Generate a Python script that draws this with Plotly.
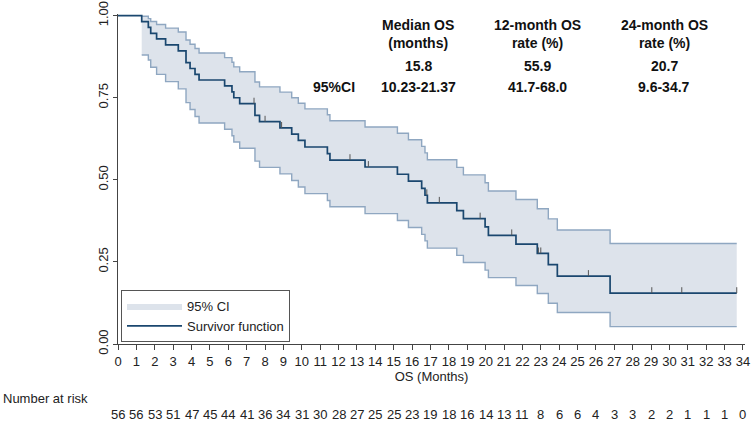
import plotly.graph_objects as go

# Kaplan-Meier steps (months, survival, 95% CI)
step_time = [0, 1.29, 1.65, 1.78, 2.10, 2.59, 3.28, 3.70, 3.92, 4.19,
             4.41, 5.80, 6.20, 6.30, 6.62, 7.45, 7.70, 8.81, 9.45, 9.81,
             10.17, 11.39, 11.53, 13.44, 15.20, 15.80, 16.52, 16.70, 16.83, 18.43,
             18.79, 19.97, 20.15, 21.65, 22.81, 23.41, 23.90, 26.77]
surv = [1.0, 0.982, 0.964, 0.946, 0.929, 0.911, 0.893, 0.857, 0.839, 0.821,
        0.804, 0.786, 0.768, 0.750, 0.732, 0.696, 0.677, 0.658, 0.639, 0.620,
        0.600, 0.580, 0.560, 0.539, 0.517, 0.496, 0.474, 0.453, 0.430, 0.406,
        0.382, 0.357, 0.331, 0.304, 0.276, 0.242, 0.207, 0.155]
ci_low = [1.0, 0.880, 0.865, 0.843, 0.821, 0.799, 0.777, 0.735, 0.714, 0.693,
          0.673, 0.654, 0.634, 0.615, 0.596, 0.557, 0.538, 0.518, 0.498, 0.478,
          0.458, 0.437, 0.418, 0.397, 0.376, 0.355, 0.334, 0.314, 0.292, 0.270,
          0.248, 0.225, 0.202, 0.178, 0.154, 0.124, 0.096, 0.053]
ci_high = [1.0, 0.998, 0.991, 0.982, 0.973, 0.962, 0.950, 0.926, 0.913, 0.900,
           0.886, 0.872, 0.858, 0.844, 0.829, 0.798, 0.783, 0.767, 0.750, 0.733,
           0.716, 0.698, 0.680, 0.661, 0.642, 0.622, 0.602, 0.582, 0.561, 0.538,
           0.515, 0.491, 0.466, 0.440, 0.412, 0.381, 0.347, 0.306]
last_followup = 33.66

censor_time = [7.4, 8.0, 8.9, 12.62, 13.62, 16.8, 17.48, 19.70, 21.42,
               22.87, 23.0, 25.59, 29.04, 30.67, 33.66]

risk_month = list(range(35))
at_risk = [56, 56, 53, 51, 47, 45, 44, 41, 36, 34, 31, 30, 28, 27, 25, 25, 23, 19,
           18, 16, 14, 13, 11, 8, 6, 6, 4, 3, 3, 2, 2, 1, 1, 1, 0]

col_titles = ["Median OS<br>(months)", "12-month OS<br>rate (%)", "24-month OS<br>rate (%)"]
col_estimates = ["15.8", "55.9", "20.7"]
col_ci = ["10.23-21.37", "41.7-68.0", "9.6-34.7"]

NAVY = "#1a476f"
BAND = "rgb(221,227,235)"
EDGE = "#8fa7c1"
FONT = "Arial, Liberation Sans, sans-serif"

W, H = 753, 421
L, R, T, B = 118, 8, 14, 77
pw, ph = W - L - R, H - T - B


def px_x(px):
    return (px - L) / pw


def px_y(py):
    return (H - B - py) / ph


x_end = step_time + [last_followup]
fig = go.Figure()

# 95% CI band (from first event on)
fig.add_trace(go.Scatter(x=x_end[1:], y=ci_low[1:] + [ci_low[-1]], mode="lines",
                         line=dict(width=0, shape="hv"), showlegend=False, hoverinfo="skip"))
fig.add_trace(go.Scatter(x=x_end[1:], y=ci_high[1:] + [ci_high[-1]], mode="lines",
                         line=dict(width=0, shape="hv"), fill="tonexty", fillcolor=BAND,
                         name="95% CI"))
for band in (ci_low, ci_high):
    fig.add_trace(go.Scatter(x=x_end[1:], y=band[1:] + [band[-1]], mode="lines",
                             line=dict(color=EDGE, width=1.4, shape="hv"),
                             showlegend=False, hoverinfo="skip"))

# survivor function
fig.add_trace(go.Scatter(x=x_end, y=surv + [surv[-1]], mode="lines",
                         line=dict(color=NAVY, width=1.7, shape="hv"),
                         name="Survivor function"))

# censoring ticks
tick_h = 0.018
cx, cy = [], []
for t in censor_time:
    s = [v for st, v in zip(step_time, surv) if st <= t][-1]
    cx += [t, t, None]
    cy += [s, s + tick_h, None]
fig.add_trace(go.Scatter(x=cx, y=cy, mode="lines", line=dict(color="#555555", width=1),
                         showlegend=False, hoverinfo="skip"))

ann = []
col_px = [418, 537, 664]
for cx_, title, est, ci in zip(col_px, col_titles, col_estimates, col_ci):
    ann.append(dict(x=px_x(cx_), y=px_y(34), text="<b>" + title + "</b>"))
    ann.append(dict(x=px_x(cx_), y=px_y(66), text="<b>" + est + "</b>"))
    ann.append(dict(x=px_x(cx_), y=px_y(87), text="<b>" + ci + "</b>"))
ann.append(dict(x=px_x(334), y=px_y(87), text="<b>95%CI</b>"))
for a in ann:
    a.update(xref="paper", yref="paper", showarrow=False, xanchor="center",
             yanchor="middle", font=dict(size=14, color="#111111", family=FONT))

ann.append(dict(x=px_x(1), y=px_y(398), xref="paper", yref="paper", text="Number at risk",
                showarrow=False, xanchor="left", yanchor="middle",
                font=dict(size=13, color="#222222", family=FONT)))
for m, n in zip(risk_month, at_risk):
    ann.append(dict(x=m, y=px_y(414), xref="x", yref="paper", text=str(n),
                    showarrow=False, xanchor="center", yanchor="middle",
                    font=dict(size=13, color="#222222", family=FONT)))

fig.update_layout(
    width=W, height=H,
    margin=dict(l=L, r=R, t=T, b=B, autoexpand=False),
    paper_bgcolor="white", plot_bgcolor="white",
    font=dict(family=FONT, size=13, color="#222222"),
    annotations=ann,
    legend=dict(x=px_x(121), y=px_y(342), xanchor="left", yanchor="bottom",
                bgcolor="white", bordercolor="#555555", borderwidth=1,
                font=dict(size=13, color="#222222"), itemwidth=55,
                traceorder="normal", tracegroupgap=2),
)
fig.update_xaxes(range=[0, (pw) / 18.382], tickmode="linear", tick0=0, dtick=1,
                 ticks="outside", ticklen=5, tickcolor="#444444", showline=True,
                 linecolor="#444444", showgrid=False, zeroline=False, automargin=False,
                 tickfont=dict(size=13),
                 title=dict(text="OS (Months)", standoff=2, font=dict(size=13)))
fig.update_yaxes(range=[0, 1.005], tickvals=[0, 0.25, 0.5, 0.75, 1],
                 ticktext=["0.00", "0.25", "0.50", "0.75", "1.00"], tickangle=-90,
                 ticks="outside", ticklen=4, tickcolor="#444444", showline=True,
                 linecolor="#444444", showgrid=False, zeroline=False, automargin=False,
                 tickfont=dict(size=13))

# the page's default body margin would push the figure 8px right and down
fig.write_html("out.html", config={"displayModeBar": False},
               post_script="document.body.style.margin='0';")
